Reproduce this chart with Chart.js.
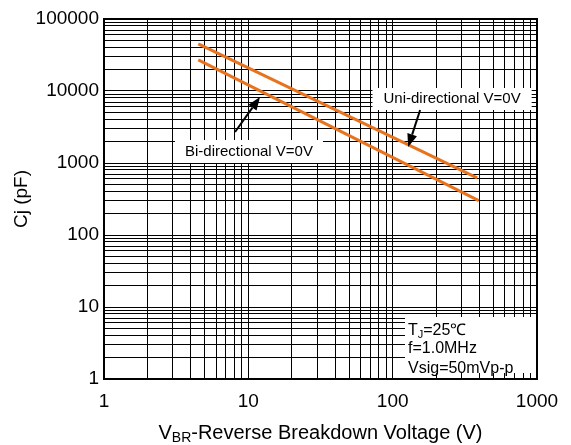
<!DOCTYPE html>
<html><head><meta charset="utf-8">
<script src="https://cdn.jsdelivr.net/npm/chart.js@4/dist/chart.umd.min.js"></script>
<style>html,body{margin:0;padding:0;background:#fff}#wrap{width:571px;height:445px}</style>
</head><body><div id="wrap"><canvas id="c" width="571" height="445"></canvas></div>
<script>
// ---- data ----
const uniVoltage = [4.5, 385];
const uniCap = [45000, 620];
const biVoltage = [4.5, 395];
const biCap = [27000, 300];
const seriesNames = ['Uni-directional V=0V', 'Bi-directional V=0V'];
const xDecades = [1, 10, 100, 1000];
const xTickLabels = ['1', '10', '100', '1000'];
const yDecades = [1, 10, 100, 1000, 10000, 100000];
const yTickLabels = ['1', '10', '100', '1000', '10000', '100000'];
const conditionLines = [['T', 'J', '=25\u2103'], ['f=1.0MHz'], ['Vsig=50mVp-p']];

function gridValues(decades) {
  const v = [];
  for (let i = 0; i < decades.length - 1; i++) {
    for (let m = 1; m <= 9; m++) v.push(m * decades[i]);
  }
  v.push(decades[decades.length - 1]);
  return v;
}
const xGrid = gridValues(xDecades);
const yGrid = gridValues(yDecades);

const FONT = '"Liberation Sans", Arial, sans-serif';
const ORANGE = '#E8731E';

// annotation anchors in data space
const annot = {
  uniLabel: { x: 258, y: 7740 },
  biLabel: { x: 10.1, y: 1445 },
  uniArrow: { from: { x: 155, y: 5445 }, to: { x: 128, y: 1667 } },
  biArrow: { from: { x: 8.09, y: 2697 }, to: { x: 12.05, y: 8254 } }
};

function arrow(ctx, x1, y1, x2, y2) {
  const ang = Math.atan2(y2 - y1, x2 - x1);
  const len = 13, half = 5;
  const bx = x2 - len * Math.cos(ang), by = y2 - len * Math.sin(ang);
  ctx.strokeStyle = '#000'; ctx.fillStyle = '#000'; ctx.lineWidth = 2;
  ctx.beginPath(); ctx.moveTo(x1, y1); ctx.lineTo(bx, by); ctx.stroke();
  ctx.beginPath();
  ctx.moveTo(x2, y2);
  ctx.lineTo(bx + half * Math.sin(ang), by - half * Math.cos(ang));
  ctx.lineTo(bx - half * Math.sin(ang), by + half * Math.cos(ang));
  ctx.closePath(); ctx.fill();
}

function labelBox(ctx, text, cx, cy, padX, h) {
  ctx.font = '15px ' + FONT;
  const w = ctx.measureText(text).width + 2 * padX;
  ctx.fillStyle = '#fff';
  ctx.fillRect(cx - w / 2, cy - h / 2, w, h);
  ctx.fillStyle = '#000';
  ctx.textAlign = 'center'; ctx.textBaseline = 'middle';
  ctx.fillText(text, cx, cy);
}

const decorations = {
  id: 'decorations',
  afterDraw(chart) {
    const ctx = chart.ctx, xs = chart.scales.x, ys = chart.scales.y, a = chart.chartArea;
    const px = v => xs.getPixelForValue(v), py = v => ys.getPixelForValue(v);
    ctx.save();
    // series labels
    labelBox(ctx, seriesNames[0], px(annot.uniLabel.x), py(annot.uniLabel.y), 11, 22);
    labelBox(ctx, seriesNames[1], px(annot.biLabel.x), py(annot.biLabel.y), 10, 23);
    arrow(ctx, px(annot.uniArrow.from.x), py(annot.uniArrow.from.y), px(annot.uniArrow.to.x), py(annot.uniArrow.to.y));
    arrow(ctx, px(annot.biArrow.from.x), py(annot.biArrow.from.y), px(annot.biArrow.to.x), py(annot.biArrow.to.y));
    // condition box
    const bl = a.right - 132, bt = a.bottom - 62, bb = a.bottom - 6;
    ctx.fillStyle = '#fff';
    ctx.fillRect(bl, bt, a.right - bl, bb - bt);
    ctx.fillStyle = '#000'; ctx.textAlign = 'left'; ctx.textBaseline = 'alphabetic';
    const base = [bt + 18, bt + 36, bt + 56];
    conditionLines.forEach((parts, i) => {
      let x = bl + 3;
      parts.forEach((p, j) => {
        const sub = parts.length > 1 && j === 1;
        ctx.font = (sub ? '11px ' : '16px ') + FONT;
        ctx.fillText(p, x, base[i] + (sub ? 3 : 0));
        x += ctx.measureText(p).width;
      });
    });
    // frame
    ctx.strokeStyle = '#000'; ctx.lineWidth = 2;
    ctx.strokeRect(a.left, a.top, a.right - a.left, a.bottom - a.top);
    // x title with subscript
    const parts = [['V', 20, 0], ['BR', 14, 3], ['-Reverse Breakdown Voltage (V)', 20, 0]];
    let total = 0;
    parts.forEach(p => { ctx.font = p[1] + 'px ' + FONT; total += ctx.measureText(p[0]).width; });
    let x = (a.left + a.right) / 2 - total / 2;
    ctx.fillStyle = '#000'; ctx.textAlign = 'left'; ctx.textBaseline = 'alphabetic';
    parts.forEach(p => {
      ctx.font = p[1] + 'px ' + FONT;
      ctx.fillText(p[0], x, 439 + p[2]);
      x += ctx.measureText(p[0]).width;
    });
    ctx.restore();
  }
};

new Chart(document.getElementById('c'), {
  type: 'line',
  data: {
    datasets: [
      { label: seriesNames[0], data: uniVoltage.map((v, i) => ({ x: v, y: uniCap[i] })),
        borderColor: ORANGE, borderWidth: 3, pointRadius: 0, fill: false },
      { label: seriesNames[1], data: biVoltage.map((v, i) => ({ x: v, y: biCap[i] })),
        borderColor: ORANGE, borderWidth: 3, pointRadius: 0, fill: false }
    ]
  },
  options: {
    responsive: false, animation: false, devicePixelRatio: 1,
    layout: { padding: { left: 0, right: 34, top: 19, bottom: 0 } },
    plugins: { legend: { display: false }, tooltip: { enabled: false } },
    scales: {
      x: {
        type: 'logarithmic', min: 1, max: 1000,
        afterBuildTicks: s => { s.ticks = xGrid.map(v => ({ value: v })); },
        afterFit: s => { s.height = 66; },
        ticks: { autoSkip: false, maxRotation: 0, padding: 11, color: '#000',
          font: { family: FONT, size: 19 },
          callback: v => { const i = xDecades.indexOf(v); return i >= 0 ? xTickLabels[i] : ''; } },
        grid: { color: '#000', lineWidth: 1, drawTicks: false },
        border: { display: true, color: '#000', width: 2 }
      },
      y: {
        type: 'logarithmic', min: 1, max: 100000,
        afterBuildTicks: s => { s.ticks = yGrid.map(v => ({ value: v })); },
        afterFit: s => { s.width = 104; },
        ticks: { autoSkip: false, padding: 5, color: '#000',
          font: { family: FONT, size: 19 },
          callback: v => { const i = yDecades.indexOf(v); return i >= 0 ? yTickLabels[i] : ''; } },
        grid: { color: '#000', lineWidth: 1, drawTicks: false },
        border: { display: true, color: '#000', width: 2 },
        title: { display: true, text: 'Cj (pF)', color: '#000', font: { family: FONT, size: 19 },
          padding: { top: 10, bottom: 0 } }
      }
    }
  },
  plugins: [decorations]
});
</script></body></html>
